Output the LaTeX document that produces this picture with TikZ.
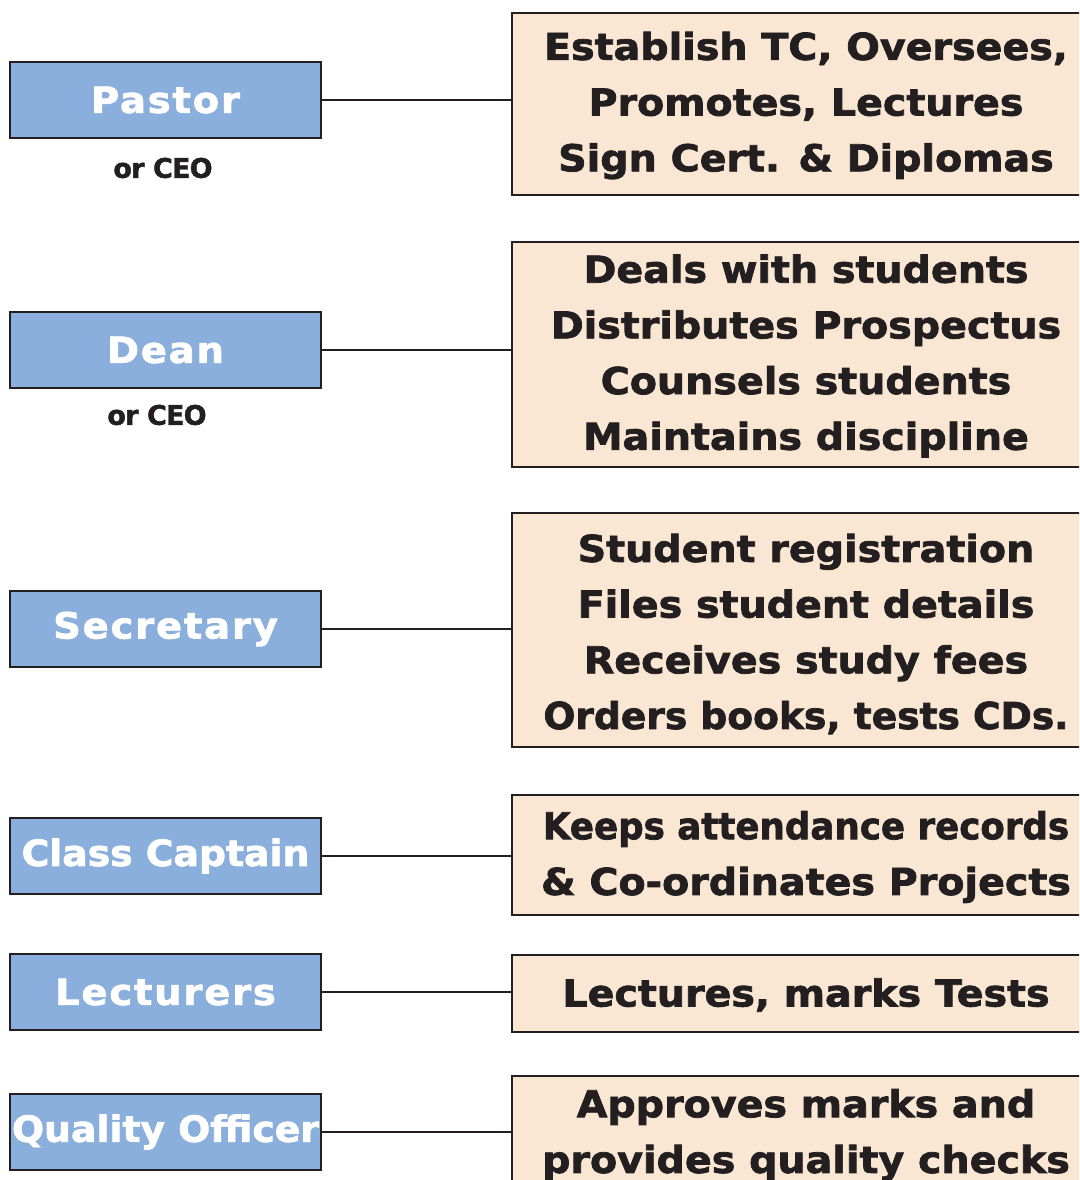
\documentclass[tikz,border=0pt]{standalone}
\usepackage{fontspec}
\setmainfont{DejaVu Sans}
\newfontfamily\heavy{DejaVu Sans Bold}[FakeBold=2,FakeStretch=1.07]
\newfontfamily\heavyspaced{DejaVu Sans Bold}[FakeBold=2,FakeStretch=1.07,LetterSpace=5]
\newfontfamily\notefont{DejaVu Sans Bold}[FakeBold=1.5,LetterSpace=-3]
\definecolor{rolefill}{HTML}{8AAFDC}
\definecolor{dutyfill}{HTML}{F9E6D3}
\definecolor{edge}{HTML}{231F20}
\newcommand{\squeeze}[2]{\scalebox{#1}[1]{#2}}
\begin{document}
\begin{tikzpicture}[x=1pt,y=-1pt,
  role/.style={draw=edge,line width=2.8pt,fill=rolefill,minimum width=311pt,minimum height=76pt,inner sep=0pt,
    text=white,font=\fontsize{36}{40}\heavy},
  rolesp/.style={role,font=\fontsize{36}{40}\heavyspaced},
  duty/.style={draw=edge,line width=2.8pt,fill=dutyfill,minimum width=588pt,inner sep=0pt,align=center,
    text=edge,font=\fontsize{37}{55.7}\heavy},
  dutytext/.style={inner sep=0pt,align=center,text=edge,font=\fontsize{37}{55.7}\heavy},
  note/.style={text=edge,inner sep=0pt,font=\fontsize{27}{30}\notefont},
  link/.style={draw=edge,line width=2.5pt}]
\useasboundingbox (0,0) rectangle (1079,1180);
\clip (0,0) rectangle (1079,1180);
% right boxes
\node[duty,minimum height=182pt] (r1) at (806,104) {};
\node[duty,minimum height=225pt] (r2) at (806,354.5) {};
\node[duty,minimum height=234pt] (r3) at (806,630) {};
\node[duty,minimum height=120pt] (r4) at (806,855) {};
\node[duty,minimum height=77pt] (r5) at (806,993.5) {};
\node[duty,minimum height=114pt] (r6) at (806,1133) {};
\node[dutytext] (t1) at (806,105.5) {Establish TC, Oversees,\\Promotes, Lectures\\Sign Cert. \& Diplomas};
\node[dutytext] (t2) at (806,356) {Deals with students\\Distributes Prospectus\\Counsels students\\Maintains discipline};
\node[dutytext] (t3) at (806,634) {Student registration\\Files student details\\Receives study fees\\\squeeze{0.95}{Orders books, tests CDs.}};
\node[dutytext] (t4) at (806,857) {\squeeze{0.9}{Keeps attendance records}\\\& Co-ordinates Projects};
\node[dutytext] (t5) at (806,995) {Lectures, marks Tests};
\node[dutytext] (t6) at (806,1135) {Approves marks and\\provides quality checks};
% left boxes
\node[rolesp] (pastor) at (165.5,100) {Pastor};
\node[rolesp] (dean) at (165.5,350) {Dean};
\node[rolesp] (sec) at (165.5,629) {Secretary};
\node[role] (cap) at (165.5,856) {\squeeze{0.98}{Class Captain}};
\node[rolesp] (lec) at (165.5,992) {Lecturers};
\node[role] (qo) at (165.5,1132) {\squeeze{0.98}{Quality Officer}};
\node[note] (n1) at (163,168) {or CEO};
\node[note] (n2) at (157,415) {or CEO};
% connectors
\draw[link] (pastor.east) -- (pastor.east -| r1.west);
\draw[link] (dean.east) -- (dean.east -| r2.west);
\draw[link] (sec.east) -- (sec.east -| r3.west);
\draw[link] (cap.east) -- (cap.east -| r4.west);
\draw[link] (lec.east) -- (lec.east -| r5.west);
\draw[link] (qo.east) -- (qo.east -| r6.west);
\end{tikzpicture}
\end{document}
